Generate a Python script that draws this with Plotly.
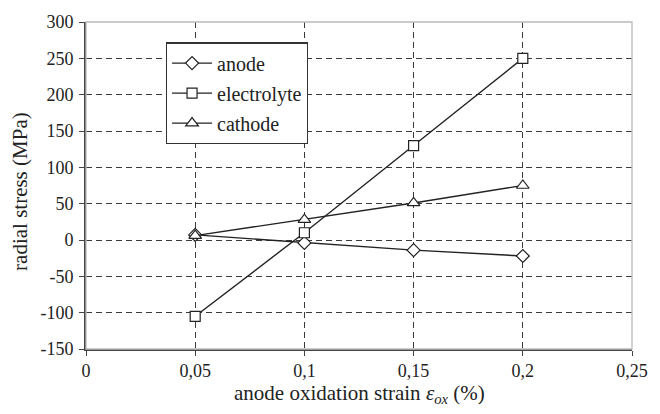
import plotly.graph_objects as go

strain = [0.05, 0.1, 0.15, 0.2]
anode = [7, -4, -14, -22]
electrolyte = [-105, 10, 130, 250]
cathode = [6, 28, 51, 75]

x_tickvals = [0, 0.05, 0.1, 0.15, 0.2, 0.25]
x_ticktext = ["0", "0,05", "0,1", "0,15", "0,2", "0,25"]
y_tickvals = [-150, -100, -50, 0, 50, 100, 150, 200, 250, 300]
y_ticktext = ["-150", "-100", "-50", "0", "50", "100", "150", "200", "250", "300"]

FONT = "Liberation Serif"
INK = "#222222"
GRID = "#3a3a3a"

series = [
    ("anode", anode, "diamond", 10),
    ("electrolyte", electrolyte, "square", 10),
    ("cathode", cathode, "triangle-up", 11),
]

fig = go.Figure()
for name, vals, sym, size in series:
    fig.add_trace(go.Scatter(
        x=strain, y=vals, name=name, mode="lines+markers",
        line=dict(color=INK, width=1.4),
        marker=dict(symbol=sym, size=size, color="white",
                    line=dict(color=INK, width=1.2)),
        legendgroup=name,
    ))

axis_common = dict(
    showline=True, linecolor="#444444", linewidth=1.6,
    ticks="outside", ticklen=5, tickcolor="#444444", tickwidth=1.4,
    showgrid=True, gridcolor=GRID, gridwidth=1.3, griddash="6px,4px",
    zeroline=False,
    tickfont=dict(family=FONT, size=18, color=INK),
)

fig.update_xaxes(range=[0, 0.25], tickmode="array", tickvals=x_tickvals,
                 ticktext=x_ticktext, **axis_common)
fig.update_yaxes(range=[-150, 300], tickmode="array", tickvals=y_tickvals,
                 ticktext=y_ticktext, ticklabelstandoff=2, **axis_common)

fig.add_shape(type="rect", xref="paper", yref="paper", x0=0, y0=0, x1=1, y1=1,
              line=dict(color="#bbbbbb", width=1.3), layer="above")

fig.add_annotation(
    text="anode oxidation strain <i>ε</i><sub><i>ox</i></sub> (%)",
    xref="paper", yref="paper", x=0.5, y=-(395 - 349) / 337,
    xanchor="center", yanchor="middle", showarrow=False,
    font=dict(family=FONT, size=21, color=INK),
)
fig.add_annotation(
    text="radial stress (MPa)", textangle=-90,
    xref="paper", yref="paper", x=-(86 - 20) / 547, y=(349 - 187) / 337,
    xanchor="center", yanchor="middle", showarrow=False,
    font=dict(family=FONT, size=21, color=INK),
)

fig.update_layout(
    width=660, height=414,
    margin=dict(l=86, r=27, t=12, b=65),
    paper_bgcolor="white", plot_bgcolor="white",
    font=dict(family=FONT, color=INK),
    showlegend=True,
    legend=dict(
        x=(166 - 86) / 547, y=(349 - 33) / 337, xanchor="left", yanchor="top",
        bgcolor="white", bordercolor="#333333", borderwidth=1.2,
        font=dict(family=FONT, size=20, color=INK),
        itemwidth=40, tracegroupgap=1,
    ),
)

fig.write_html("out.html")
